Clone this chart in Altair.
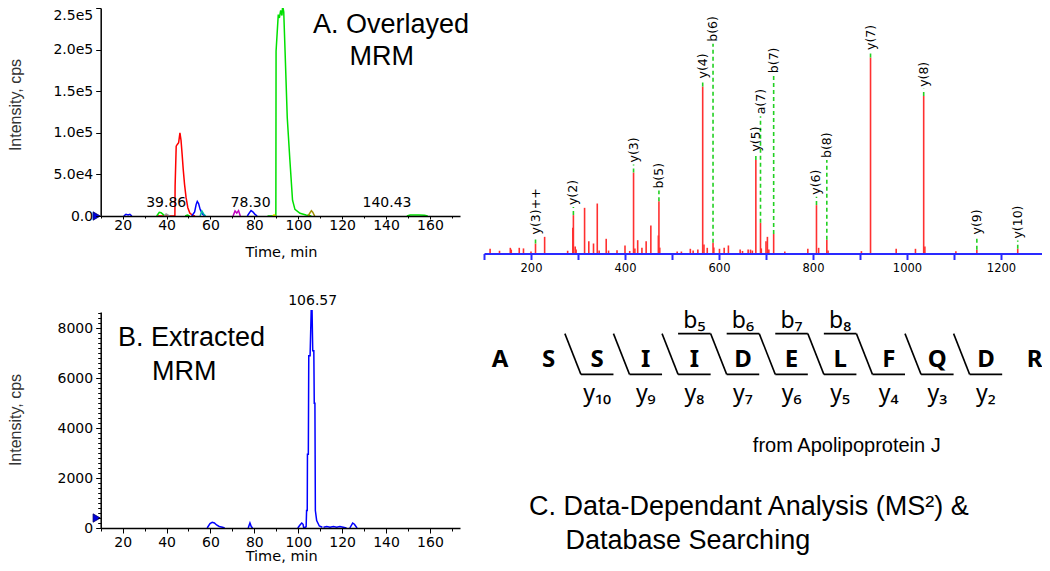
import altair as alt
import pandas as pd

# ---------------- Panel A: overlayed MRM traces (time, intensity) ----------------
a_series = {
    "red": ("#ff0000", [36, 43.8, 43.9, 44.4, 44.9, 45.5, 46.1, 46.6, 47.1, 47.6, 48.2, 48.9, 49.7, 50.6, 52.0, 53.0],
            [0, 0, 3.6e4, 8.4e4, 8.6e4, 8.8e4, 1.0e5, 9.1e4, 7.4e4, 5.6e4, 3.8e4, 2.2e4, 1.0e4, 3.5e3, 5e2, 0]),
    "green": ("#00e000", [86, 89.8, 89.9, 90.9, 91.4, 92.0, 92.6, 92.9, 93.4, 94.0, 95.0, 96.2, 97.4, 98.5, 100.8, 103.5, 106],
              [0, 0, 1.98e5, 2.42e5, 2.38e5, 2.47e5, 2.41e5, 2.53e5, 2.45e5, 1.98e5, 1.18e5, 6.7e4, 1.9e4, 7.9e3, 3.2e3, 1.2e3, 0]),
    "blue1": ("#0000ff", [20.5, 21.5, 22.5, 23.3, 24.2], [0, 2e3, 1.2e3, 2e3, 0]),
    "blue2": ("#0000ff", [51.5, 52.8, 53.5, 54.0, 54.6, 55.3, 56.3, 57.5], [0, 5e3, 1.4e4, 1.75e4, 1.5e4, 8e3, 2.5e3, 0]),
    "blue3": ("#0000ff", [76.8, 77.8, 78.5, 79.3, 80.3, 81.3], [0, 4e3, 6.5e3, 5e3, 2e3, 0]),
    "green2": ("#00e000", [35.5, 36.7, 37.5, 38.4, 39.3], [0, 4.4e3, 4e3, 2e3, 0]),
    "green3": ("#00e000", [48.5, 49.5, 50.5], [0, 1.2e3, 0]),
    "green4": ("#00e000", [149.5, 151, 155, 157.5, 159], [0, 1.2e3, 1.2e3, 8e2, 0]),
    "gray": ("#a0a0a0", [39.0, 39.8, 40.6, 41.5], [0, 2.5e3, 1.2e3, 0]),
    "teal": ("#00b8a8", [55.3, 56.1, 56.9, 57.8], [0, 6e3, 2.5e3, 0]),
    "magenta": ("#c000c0", [70.3, 71.2, 72.0, 72.8, 73.6], [0, 6e3, 3.5e3, 6.5e3, 0]),
    "olive": ("#a09000", [104.5, 105.4, 106.0, 106.6, 107.5], [0, 4e3, 6.3e3, 4.5e3, 0]),
    "yellow": ("#e8e800", [88.3, 89.0, 89.7], [0, 1.5e3, 0]),
}
a_label_t = [39.86, 78.30, 140.43]
a_label_txt = ["39.86", "78.30", "140.43"]
a_yticks = [0, 5e4, 1e5, 1.5e5, 2e5, 2.5e5]

# ---------------- Panel B: extracted MRM ----------------
b_series = {
    "s1": ([58.5, 59.8, 60.8, 61.8, 62.8, 64, 65.5, 66.5], [0, 180, 230, 200, 120, 60, 30, 0]),
    "s2": ([77.2, 78.0, 78.6, 79.2], [0, 200, 60, 0]),
    "s3": ([99.8, 100.8, 101.6, 102.2, 102.5], [0, 120, 200, 150, 0]),
    "main": ([102.5, 103.6, 103.8, 104.1, 104.2, 104.6, 104.8, 105.4, 105.9, 106.3, 106.6, 107.1, 107.3, 107.6, 107.8, 108.4, 109.6, 111.0],
             [0, 50, 700, 700, 2950, 2950, 6900, 6900, 8700, 8700, 7100, 7100, 5000, 5000, 700, 300, 80, 30]),
    "tail": ([111.5, 113, 114.5, 116, 117.5, 119, 120.5, 122], [30, 60, 30, 60, 30, 60, 30, 0]),
    "s5": ([123.5, 124.8, 125.6, 126.8], [0, 200, 150, 0]),
}
b_label_t = [106.57]
b_label_txt = ["106.57"]
b_yticks = [0, 2000, 4000, 6000, 8000]

# ---------------- Panel C: MS/MS spectrum ----------------
other_mz = [113, 133, 156, 158, 175, 184, 200, 229, 278, 289,
            294, 296, 314, 323, 333, 341, 345, 360, 365, 383,
            400, 410, 421, 427, 436, 445, 455, 471, 474, 511,
            520, 539, 545, 555, 568, 575, 589, 601, 611, 620,
            645, 650, 662, 667, 671, 690, 700, 703, 706, 740,
            789, 812, 832, 903, 977, 1018, 1038, 1104]
other_int = [2.4, 1.4, 2.9, 2.0, 2.9, 2.6, 1.0, 8.5, 1.4, 13.1,
             3.6, 2.0, 23.3, 6.3, 5.1, 25.5, 1.5, 7.5, 1.5, 1.7,
             4.1, 1.3, 2.6, 6.8, 2.9, 6.3, 14.3, 9.2, 3.0, 1.0,
             1.0, 2.4, 1.5, 2.0, 4.6, 2.9, 3.0, 2.4, 2.9, 4.1,
             2.0, 1.3, 2.0, 2.0, 1.5, 2.6, 6.3, 8.5, 2.0, 1.0,
             2.4, 2.9, 1.5, 1.2, 2.4, 2.4, 3.6, 1.2]
ion_label = ["y(3)++", "y(2)", "y(3)", "b(5)", "y(4)", "b(6)", "y(5)", "a(7)",
             "b(7)", "y(6)", "b(8)", "y(7)", "y(8)", "y(9)", "y(10)"]
ion_mz = [209.6, 290.2, 418.2, 472.2, 565.3, 587.3, 678.4, 688.3,
          716.3, 807.4, 829.4, 922.4, 1035.5, 1148.6, 1235.6]
ion_int = [5.1, 19.6, 41.3, 26.7, 85.2, 5.5, 47.7, 15.7,
           10.0, 24.7, 7.0, 100.0, 80.4, 1.9, 2.4]
ion_level = [8.7, 23.7, 45.4, 32.1, 88.3, 107.0, 51.0, 70.0,
             91.0, 29.0, 47.7, 102.8, 84.0, 8.7, 6.6]
spec_ticks = list(range(100, 1301, 100))

# ---------------- Peptide fragment map ----------------
residues = ["A", "S", "S", "I", "I", "D", "E", "L", "F", "Q", "D", "R"]
y_ion_num = [10, 9, 8, 7, 6, 5, 4, 3, 2]      # breaks after residues 2..10
y_break_after = [2, 3, 4, 5, 6, 7, 8, 9, 10]
b_ion_num = [5, 6, 7, 8]                       # breaks after residues 5..8

SUB = str.maketrans("0123456789", "₀₁₂₃₄₅₆₇₈₉")

# ---------------- scales (plot-area pixel ranges) ----------------
W, H = 1034, 555
xA = alt.Scale(domain=[10, 173.7], range=[92.7, 452])
yA = alt.Scale(domain=[0, 2.5e5], range=[208, 0])
xB = alt.Scale(domain=[10, 173.7], range=[92.7, 452])
yB = alt.Scale(domain=[0, 8650], range=[520, 304.1])
xS = alt.Scale(domain=[100, 1300], range=[476, 1040])
yS = alt.Scale(domain=[0, 120], range=[245.5, 10.3])
xQ = alt.Scale(domain=[1, 12], range=[492, 1026.5])

AX = dict(title=None, grid=False, zindex=1, labelFont="DejaVu Sans", labelColor="black",
          domainColor="black", tickColor="black", labelOverlap=False, labelFlush=False)


def txt(s, x, y, size, font="Liberation Sans", weight="normal", align="left",
        angle=None, color="black", baseline="alphabetic"):
    kw = dict(fontSize=size, font=font, fontWeight=weight, align=align,
              baseline=baseline, color=color)
    if angle is not None:
        kw["angle"] = angle
    return alt.Chart(pd.DataFrame({"s": [s]})).mark_text(**kw).encode(
        x=alt.value(x), y=alt.value(y), text="s:N")


def trace_df(series, color_default=None):
    rows = []
    for name, val in series.items():
        if color_default is None:
            col, ts, vs = val
        else:
            col = color_default
            ts, vs = val
        for i, (t, v) in enumerate(zip(ts, vs)):
            rows.append({"t": t, "I": v, "seg": name, "color": col, "i": i})
    return pd.DataFrame(rows)


layers = []

# ---- Panel A ----
dfA = trace_df(a_series)
layers.append(alt.Chart(dfA).mark_line(strokeWidth=1.5).encode(
    x=alt.X("t:Q", scale=xA, axis=alt.Axis(orient="bottom", offset=208 - H,
                                           values=list(range(20, 161, 20)), labelFontSize=14, tickSize=3,
                                           domainWidth=1.5, labelPadding=-1, **AX)),
    y=alt.Y("I:Q", scale=yA, axis=alt.Axis(orient="left", offset=-92.7, values=a_yticks,
                                           labelExpr="datum.value == 0 ? '0.0' : replace(format(datum.value, '.1e'), 'e+', 'e')",
                                           labelBaseline=alt.condition("datum.value >= 250000", alt.value("top"), alt.value("middle")),
                                           labelFontSize=14, tickSize=5, domainWidth=1.5, labelPadding=3, **AX)),
    color=alt.Color("color:N", scale=None),
    detail="seg:N",
    order="i:Q",
))
layers.append(alt.Chart(dfA).mark_line(opacity=0).encode(
    x=alt.X("t:Q", scale=xA, axis=alt.Axis(orient="bottom", offset=208 - H, values=list(range(10, 171, 20)),
                                           labels=False, domain=False, tickSize=2, title=None, grid=False,
                                           tickColor="black", zindex=1)),
    y=alt.Y("I:Q", scale=yA, axis=None)))
layers.append(alt.Chart(pd.DataFrame({"t": a_label_t, "I": [0] * 3, "s": a_label_txt})).mark_text(
    fontSize=14, font="DejaVu Sans", dy=-13, baseline="middle", color="black").encode(
    x=alt.X("t:Q", scale=xA, axis=None), y=alt.Y("I:Q", scale=yA, axis=None), text="s:N"))
layers.append(alt.Chart(pd.DataFrame({"t": [10], "I": [0]})).mark_point(
    shape="triangle-right", filled=True, size=70, color="#0000dd", stroke="#000066", strokeWidth=0.8,
    opacity=1, xOffset=-4).encode(
    x=alt.X("t:Q", scale=xA, axis=None), y=alt.Y("I:Q", scale=yA, axis=None)))

# ---- Panel B ----
dfB = trace_df(b_series, color_default="#0000ff")
layers.append(alt.Chart(dfB).mark_line(strokeWidth=1.5).encode(
    x=alt.X("t:Q", scale=xB, axis=alt.Axis(orient="bottom", offset=520 - H, values=list(range(20, 161, 20)),
                                           labelFontSize=14, tickSize=5, domainWidth=1.5, labelPadding=2, **AX)),
    y=alt.Y("I:Q", scale=yB, axis=alt.Axis(orient="left", offset=-92.7, values=b_yticks, format="d",
                                           labelFontSize=14, tickSize=5, domainWidth=1.5, labelPadding=3, **AX)),
    color=alt.Color("color:N", scale=None),
    detail="seg:N",
    order="i:Q",
))
layers.append(alt.Chart(dfB).mark_line(opacity=0).encode(
    x=alt.X("t:Q", scale=xB, axis=alt.Axis(orient="bottom", offset=520 - H, values=list(range(10, 171, 20)),
                                           labels=False, domain=False, tickSize=3, title=None, grid=False,
                                           tickColor="black", zindex=1)),
    y=alt.Y("I:Q", scale=yB, axis=alt.Axis(orient="left", offset=-92.7, values=list(range(0, 8601, 200)),
                                           labels=False, domain=False, tickSize=3, title=None, grid=False,
                                           tickColor="black", zindex=1))))
layers.append(alt.Chart(pd.DataFrame({"t": b_label_t, "I": [8650], "s": b_label_txt})).mark_text(
    fontSize=14, font="DejaVu Sans", dy=-11, baseline="middle", color="black").encode(
    x=alt.X("t:Q", scale=xB, axis=None), y=alt.Y("I:Q", scale=yB, axis=None), text="s:N"))
layers.append(alt.Chart(pd.DataFrame({"t": [10], "I": [400]})).mark_point(
    shape="triangle-right", filled=True, size=70, color="#0000dd", stroke="#000066", strokeWidth=0.8,
    opacity=1, xOffset=-4).encode(
    x=alt.X("t:Q", scale=xB, axis=None), y=alt.Y("I:Q", scale=yB, axis=None)))

# ---- Spectrum ----
dfPeaks = pd.DataFrame({"mz": other_mz + ion_mz, "inten": other_int + ion_int})
dfPeaks["base"] = 0
layers.append(alt.Chart(dfPeaks).mark_rule(color="#ff3030", strokeWidth=1.6).encode(
    x=alt.X("mz:Q", scale=xS, axis=alt.Axis(orient="bottom", offset=245.5 - H, values=spec_ticks,
                                            labelExpr="datum.value % 200 == 0 ? datum.value : ''",
                                            title=None, grid=False, zindex=1, labelFont="DejaVu Sans",
                                            labelFontSize=11.5, labelColor="black", domainColor="#2a2aff",
                                            domainWidth=2, tickColor="#2a2aff", tickWidth=2, tickSize=6,
                                            labelPadding=3, labelOverlap=False, labelFlush=False)),
    y=alt.Y("inten:Q", scale=yS, axis=None),
    y2="base:Q"))
dfIons = pd.DataFrame({"mz": ion_mz, "inten": ion_int, "level": ion_level, "lab": ion_label})
layers.append(alt.Chart(dfIons).mark_rule(color="#22d022", strokeWidth=1.6, strokeDash=[4, 3]).encode(
    x=alt.X("mz:Q", scale=xS, axis=None), y=alt.Y("inten:Q", scale=yS, axis=None), y2="level:Q"))
layers.append(alt.Chart(dfIons).mark_text(angle=270, align="left", baseline="middle", dx=2,
                                          fontSize=12.5, font="DejaVu Sans", color="black").encode(
    x=alt.X("mz:Q", scale=xS, axis=None), y=alt.Y("level:Q", scale=yS, axis=None), text="lab:N"))

# ---- Peptide fragment map ----
HW = 0.165
TOP_Y, BOT_Y = 325.6, 366.4
dfRes = pd.DataFrame({"idx": list(range(1, 13)), "res": residues})
layers.append(alt.Chart(dfRes).mark_text(font="Noto Sans", fontWeight="bold", fontSize=24,
                                         baseline="alphabetic", color="black").encode(
    x=alt.X("idx:Q", scale=xQ, axis=None), y=alt.value(359), text="res:N"))
brk = [a + 0.5 for a in y_break_after]
dfDiag = pd.DataFrame({"x0": [b - HW for b in brk], "x1": [b + HW for b in brk]})
layers.append(alt.Chart(dfDiag).mark_rule(color="black", strokeWidth=1.6).encode(
    x=alt.X("x0:Q", scale=xQ, axis=None), x2="x1:Q", y=alt.value(TOP_Y), y2=alt.value(BOT_Y)))
nxt = brk[1:] + [brk[-1] + 1]
dfBot = pd.DataFrame({"x0": [b + HW for b in brk], "x1": [n - HW for n in nxt]})
layers.append(alt.Chart(dfBot).mark_rule(color="black", strokeWidth=1.6).encode(
    x=alt.X("x0:Q", scale=xQ, axis=None), x2="x1:Q", y=alt.value(BOT_Y)))
bbrk = [n + 0.5 for n in b_ion_num]
dfTop = pd.DataFrame({"x0": [b - 1 + HW for b in bbrk], "x1": [b - HW for b in bbrk]})
layers.append(alt.Chart(dfTop).mark_rule(color="black", strokeWidth=1.6).encode(
    x=alt.X("x0:Q", scale=xQ, axis=None), x2="x1:Q", y=alt.value(TOP_Y)))
dfBl = pd.DataFrame({"idx": b_ion_num, "lab": ["b" + str(n).translate(SUB) for n in b_ion_num]})
layers.append(alt.Chart(dfBl).mark_text(font="Noto Sans", fontSize=23, baseline="alphabetic",
                                        color="black").encode(
    x=alt.X("idx:Q", scale=xQ, axis=None), y=alt.value(320), text="lab:N"))
dfYl = pd.DataFrame({"idx": [a + 1 for a in y_break_after],
                     "lab": ["y" + str(n).translate(SUB) for n in y_ion_num]})
layers.append(alt.Chart(dfYl).mark_text(font="Noto Sans", fontSize=23, baseline="alphabetic",
                                        color="black").encode(
    x=alt.X("idx:Q", scale=xQ, axis=None), y=alt.value(393), text="lab:N"))

# ---- free text ----
layers += [
    txt("A. Overlayed", 305, 24.7, 27),
    txt("MRM", 373.7, 57, 27, align="center"),
    txt("B. Extracted", 110, 338, 27),
    txt("MRM", 176.2, 372, 27, align="center"),
    txt("Intensity, cps", 13, 97, 16, angle=270, align="center", color="#333333"),
    txt("Intensity, cps", 13, 412, 16, angle=270, align="center", color="#333333"),
    txt("Time, min", 273.5, 249, 14.5, font="DejaVu Sans", align="center"),
    txt("Time, min", 273.7, 553, 14.5, font="DejaVu Sans", align="center"),
    txt("from Apolipoprotein J", 838.8, 443.8, 20, align="center"),
    txt("C. Data-Dependant Analysis (MS²) &", 521, 506.5, 27),
    txt("Database Searching", 557.5, 541, 27),
]

chart = alt.layer(*layers).resolve_scale(
    x="independent", y="independent", color="independent"
).properties(
    width=W, height=H, padding=0, autosize=alt.AutoSizeParams(type="none")
).configure(background="white").configure_view(stroke=None)

chart.save("out.html", embed_options={"renderer": "svg", "actions": False})
